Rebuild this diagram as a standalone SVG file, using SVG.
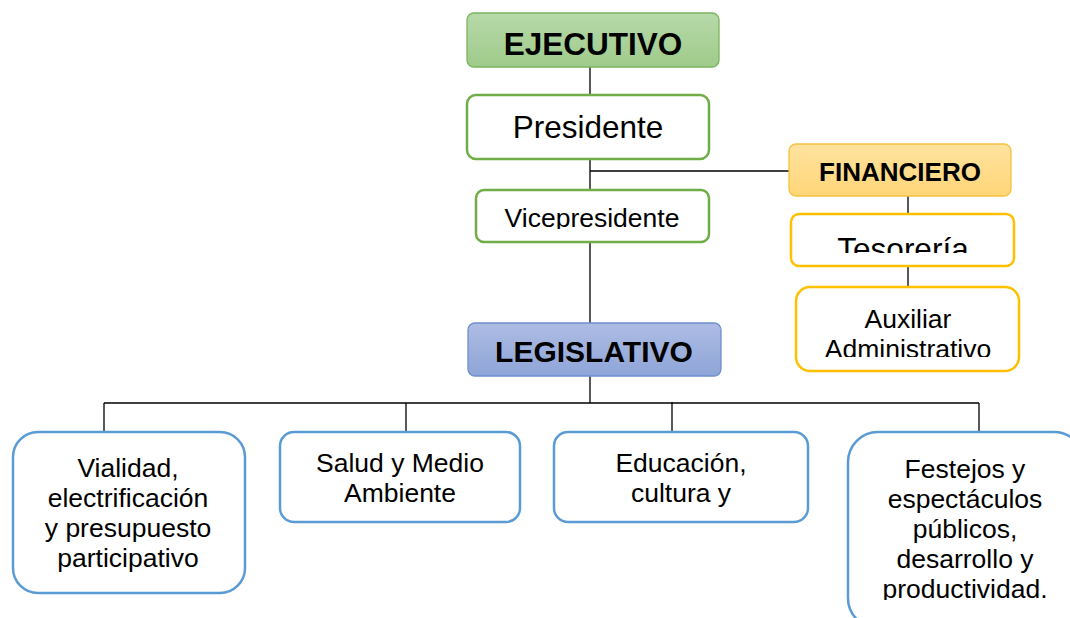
<svg xmlns="http://www.w3.org/2000/svg" width="1070" height="618" viewBox="0 0 1070 618">
<defs>
<linearGradient id="gGreen" x1="0" y1="0" x2="0" y2="1"><stop offset="0" stop-color="#b7d9a9"/><stop offset="1" stop-color="#9fcb8b"/></linearGradient>
<linearGradient id="gBlue" x1="0" y1="0" x2="0" y2="1"><stop offset="0" stop-color="#aebce3"/><stop offset="1" stop-color="#8ea5d8"/></linearGradient>
<linearGradient id="gOrange" x1="0" y1="0" x2="0" y2="1"><stop offset="0" stop-color="#ffe3a0"/><stop offset="1" stop-color="#ffd577"/></linearGradient>
<clipPath id="cVice"><rect x="470" y="190" width="245" height="39"/></clipPath>
<clipPath id="cTes"><rect x="790" y="214" width="226" height="39"/></clipPath>
<clipPath id="cAux"><rect x="796" y="287" width="224" height="70"/></clipPath>
<clipPath id="cFes"><rect x="848" y="432" width="222" height="168"/></clipPath>
</defs>
<style>
text{font-family:"Liberation Sans",Arial,sans-serif;fill:#000;text-anchor:middle}
.b{font-weight:bold}
.line{stroke:#000;stroke-width:1.3;fill:none}
.gr{fill:#fff;stroke:#70ad47;stroke-width:2.5}
.yl{fill:#fff;stroke:#ffc000;stroke-width:2.5}
.bl{fill:#fff;stroke:#5b9bd5;stroke-width:2.5}
</style>
<rect width="1070" height="618" fill="#fff"/>
<g id="connectors">
<path class="line" d="M590 67V95M590 149V190M590 171H789M590 242V323M590 376V403M104 403H979M104 403V432M406 403V432M672 402V432M979 403V432M908 196V214M908 266V287"/>
</g>
<g id="ejecutivo">
<rect x="467" y="13" width="252" height="54" rx="7" fill="url(#gGreen)" stroke="#7ab55c" stroke-width="1.3"/>
<text x="593" y="55" class="b" font-size="31.5">EJECUTIVO</text>
</g>
<g id="presidente">
<rect x="467" y="95" width="242" height="64" rx="9" class="gr"/>
<text x="588" y="138" font-size="31.5">Presidente</text>
</g>
<g id="vicepresidente">
<rect x="476" y="190" width="233" height="52" rx="8" class="gr"/>
<text x="592" y="227" font-size="26.5" clip-path="url(#cVice)">Vicepresidente</text>
</g>
<g id="financiero">
<rect x="789" y="144" width="222" height="52" rx="7" fill="url(#gOrange)" stroke="#f5c242" stroke-width="1.3"/>
<text x="900" y="181" class="b" font-size="26">FINANCIERO</text>
</g>
<g id="tesoreria">
<rect x="791" y="214" width="223" height="52" rx="8" class="yl"/>
<text x="903" y="260" font-size="31.5" clip-path="url(#cTes)">Tesorería</text>
</g>
<g id="auxiliar">
<rect x="796" y="287" width="223" height="84" rx="14" class="yl"/>
<g clip-path="url(#cAux)" font-size="26.5">
<text x="908" y="328">Auxiliar</text>
<text x="908" y="358">Administrativo</text>
</g>
</g>
<g id="legislativo">
<rect x="468" y="323" width="253" height="53" rx="7" fill="url(#gBlue)" stroke="#6f8fce" stroke-width="1.3"/>
<text x="594" y="362" class="b" font-size="30">LEGISLATIVO</text>
</g>
<g id="vialidad" font-size="26.5">
<rect x="13" y="432" width="232" height="161" rx="25" class="bl"/>
<text x="128" y="477">Vialidad,</text>
<text x="128" y="507">electrificación</text>
<text x="128" y="537">y presupuesto</text>
<text x="128" y="567">participativo</text>
</g>
<g id="salud" font-size="26.5">
<rect x="280" y="432" width="240" height="90" rx="14" class="bl"/>
<text x="400" y="472">Salud y Medio</text>
<text x="400" y="502">Ambiente</text>
</g>
<g id="educacion" font-size="26.5">
<rect x="554" y="432" width="254" height="90" rx="14" class="bl"/>
<text x="681" y="472">Educación,</text>
<text x="681" y="502">cultura y</text>
</g>
<g id="festejos" font-size="26.5">
<rect x="848" y="432" width="236" height="196" rx="30" class="bl"/>
<g clip-path="url(#cFes)">
<text x="965" y="478">Festejos y</text>
<text x="965" y="508">espectáculos</text>
<text x="965" y="538">públicos,</text>
<text x="965" y="568">desarrollo y</text>
<text x="965" y="598">productividad.</text>
</g>
</g>
</svg>
